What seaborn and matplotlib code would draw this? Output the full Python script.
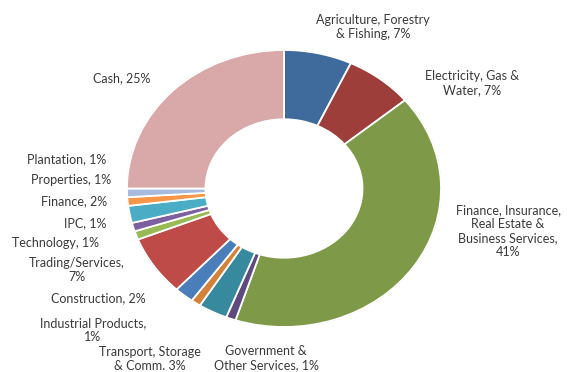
import matplotlib
matplotlib.use("Agg")
import matplotlib.pyplot as plt
import seaborn as sns
from matplotlib.patches import Circle

sns.set_theme(style="white")
plt.rcParams['font.family'] = ['Lato', 'DejaVu Sans']

categories = ["Agriculture, Forestry & Fishing", "Electricity, Gas & Water",
              "Finance, Insurance, Real Estate & Business Services", "Government & Other Services",
              "Transport, Storage & Comm.", "Industrial Products", "Construction",
              "Trading/Services", "Technology", "IPC", "Finance", "Properties",
              "Plantation", "Cash"]
label_texts = ["Agriculture, Forestry\n& Fishing, 7%", "Electricity, Gas &\nWater, 7%",
               "Finance, Insurance,\nReal Estate &\nBusiness Services,\n41%",
               "Government &\nOther Services, 1%", "Transport, Storage\n& Comm. 3%",
               "Industrial Products,\n1%", "Construction, 2%", "Trading/Services,\n7%",
               "Technology, 1%", "IPC, 1%", "Finance, 2%", "Properties, 1%",
               "Plantation, 1%", "Cash, 25%"]
values = [7, 7, 41, 1, 3, 1, 2, 7, 1, 1, 2, 1, 1, 25]

colors = ["#3F6A9C", "#9E3E3B", "#7E9A48", "#5E4A7E", "#378A9E", "#D2823A",
          "#4A7EBB", "#BE4B48", "#98B954", "#7D60A0", "#4BACC6", "#F79646",
          "#A7BCDC", "#D9A8A8"]

# label centres in pixels (x, y from top)
label_pos = [(373, 27), (472, 83), (508, 231), (266, 358), (150, 359), (93, 330),
             (98, 298), (77, 270), (55, 243), (85, 223), (74, 201), (71, 180),
             (67, 159), (122, 78)]

W, H = 567, 372
fig = plt.figure(figsize=(W / 100, H / 100), dpi=100)
fig.patch.set_facecolor("white")

cx, cy, rx, ry = 284, 188.5, 157, 138.5
ax = fig.add_axes([(cx - rx) / W, 1 - (cy + ry) / H, 2 * rx / W, 2 * ry / H])
ax.pie(values, colors=colors, startangle=90, counterclock=False, radius=1,
       wedgeprops=dict(width=0.5, edgecolor="white", linewidth=1.3))
ax.add_patch(Circle((0, 0), 1.0, fill=False, edgecolor="#d0d0d0", linewidth=1.0, zorder=0))
ax.set_aspect("auto")
ax.set_xlim(-1, 1)
ax.set_ylim(-1, 1)
ax.axis("off")

for txt, (x, y) in zip(label_texts, label_pos):
    fig.text(x / W, 1 - y / H, txt, ha="center", va="center", fontsize=9,
             color="#3a3a3a", linespacing=1.2)

fig.savefig("out.png", dpi=100, facecolor="white")
